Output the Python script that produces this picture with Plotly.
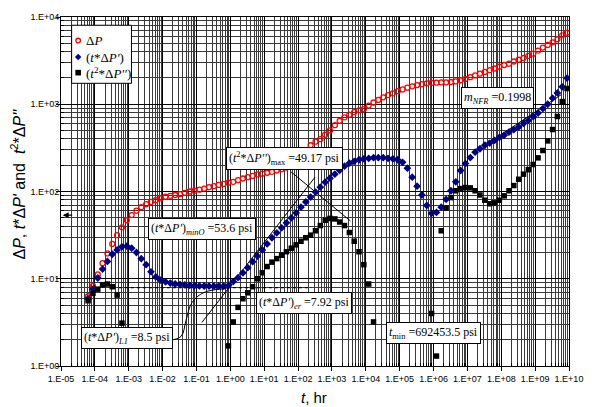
import plotly.graph_objects as go
import math

# ---------------------------------------------------------------- data
# Elapsed time, hr (one row per decade, seven samples per decade)
TIME_HR = [
    6.31e-05, 8.77e-05, 1.22e-04, 1.69e-04, 2.35e-04, 3.27e-04, 4.54e-04,
    6.31e-04, 8.77e-04, 1.22e-03, 1.69e-03, 2.35e-03, 3.27e-03, 4.54e-03,
    6.31e-03, 8.77e-03, 1.22e-02, 1.69e-02, 2.35e-02, 3.27e-02, 4.54e-02,
    6.31e-02, 8.77e-02, 1.22e-01, 1.69e-01, 2.35e-01, 3.27e-01, 4.54e-01,
    6.31e-01, 8.77e-01, 1.22e+00, 1.69e+00, 2.35e+00, 3.27e+00, 4.54e+00,
    6.31e+00, 8.77e+00, 1.22e+01, 1.69e+01, 2.35e+01, 3.27e+01, 4.54e+01,
    6.31e+01, 8.77e+01, 1.22e+02, 1.69e+02, 2.35e+02, 3.27e+02, 4.54e+02,
    6.31e+02, 8.77e+02, 1.22e+03, 1.69e+03, 2.35e+03, 3.27e+03, 4.54e+03,
    6.31e+03, 8.77e+03, 1.22e+04, 1.69e+04, 2.35e+04, 3.27e+04, 4.54e+04,
    6.31e+04, 8.77e+04, 1.22e+05, 1.69e+05, 2.35e+05, 3.27e+05, 4.54e+05,
    6.31e+05, 8.77e+05, 1.22e+06, 1.69e+06, 2.35e+06, 3.27e+06, 4.54e+06,
    6.31e+06, 8.77e+06, 1.22e+07, 1.69e+07, 2.35e+07, 3.27e+07, 4.54e+07,
    6.31e+07, 8.77e+07, 1.22e+08, 1.69e+08, 2.35e+08, 3.27e+08, 4.54e+08,
    6.31e+08, 8.77e+08, 1.22e+09, 1.69e+09, 2.35e+09, 3.27e+09, 4.54e+09,
    6.31e+09, 8.77e+09,
]

# Pressure change, psi
DELTA_P = [
    6.3, 8.3, 11.2, 15.1, 19.5, 25.1, 31.6,
    38.9, 46.8, 53.7, 60.3, 66.1, 71.6, 75.9,
    79.4, 83.2, 87.1, 89.1, 91.2, 93.3, 96.6,
    100, 102, 105, 108, 112, 115, 119,
    122, 126, 129, 135, 141, 146, 151,
    157, 160, 164, 168, 174, 180, 188,
    200, 229, 263, 295, 339, 372, 398,
    447, 501, 575, 646, 708, 759, 813,
    851, 881, 966, 1047, 1122, 1202, 1274,
    1334, 1413, 1479, 1549, 1603, 1660, 1698,
    1738, 1758, 1766, 1778, 1778, 1799, 1828,
    1884, 1950, 2042, 2138, 2239, 2344, 2455,
    2570, 2692, 2818, 2917, 3090, 3236, 3388,
    3589, 3802, 4121, 4467, 4786, 5129, 5559,
    6166, 6607,
]

# Pressure derivative t*dP', psi
T_DP1 = [
    5.9, 7.6, 10.2, 12.9, 15.8, 19.1, 21.4,
    23.2, 23.7, 22.4, 20.0, 17.0, 14.5, 12.0,
    10.5, 9.66, 9.23, 8.91, 8.71, 8.61, 8.51,
    8.41, 8.32, 8.28, 8.26, 8.24, 8.22, 8.22,
    8.22, 8.32, 9.27, 10.3, 11.7, 13.4, 15.7,
    18.2, 21.4, 25.1, 29.5, 33.6, 38.3, 43.7,
    49.8, 56.8, 66.1, 75.9, 86.3, 98.4, 112,
    128, 142, 158, 175, 195, 211, 222,
    231, 237, 240, 244, 244, 244, 240,
    237, 231, 216, 185, 146, 115, 91.2,
    69.2, 56.2, 57.5, 66.1, 81.3, 102, 129,
    174, 209, 245, 282, 309, 339, 359,
    385, 417, 442, 479, 513, 550, 603,
    653, 724, 794, 891, 1000, 1175, 1349,
    1585, 1995,
]

# Second derivative group t^2*dP'', psi (None where not positive)
T2_DP2 = [
    5.6, 6.8, 7.6, 8.5, 8.7, 8.1, 6.5,
    3.1, None, None, None, None, None, None,
    None, None, None, None, None, None, None,
    None, None, None, None, None, None, None,
    None, 1.7, 3.2, 4.7, 5.9, 6.9, 8.1,
    10.0, 11.7, 13.8, 15.5, 17.0, 18.6, 20.4,
    22.4, 24.5, 26.9, 29.5, 31.6, 35.5, 40.7,
    46.8, 49.17, 48.5, 44.7, 40.7, 33.9, 26.9,
    20.4, 14.5, 8.7, 3.2, None, None, None,
    None, None, None, None, None, None, None,
    None, 4.0, 1.3, 35.5, 64.6, 85.1, 102,
    108, 111, 110, 102, 91.2, 79.4, 72.4,
    74.1, 79.4, 89.1, 102, 117, 138, 158,
    178, 204, 243, 295, 380, 513, 724,
    1072, 1514,
]

# Characteristic values written on the chart
T2DP2_MAX = 49.17
TDP1_MIN_O = 53.6
TDP1_ER = 7.92
TDP1_L1 = 8.5
T_MIN = 692453.5
M_NFR = 0.1998

X_TICKS = [10.0 ** e for e in range(-5, 11)]
X_TICK_TEXT = ["1.E-%02d" % -e if e < 0 else "1.E+%02d" % e for e in range(-5, 11)]
Y_TICKS = [10.0 ** e for e in range(0, 5)]
Y_TICK_TEXT = ["1.E+%02d" % e for e in range(0, 5)]

# half-slope guide line and m_NFR guide line (t, psi)
HALF_SLOPE_T = [0.145, 316]
HALF_SLOPE_P = [3.16, 146]
NFR_T = [3.0e7, 5.9e9]
NFR_P = [330, 1288]
# hand-drawn leader from the L1 label
L1_LEADER_T = [0.0156, 0.0351, 0.0492, 0.0738, 0.166, 0.78]
L1_LEADER_P = [1.97, 2.19, 3.33, 5.33, 6.95, 7.71]
# leader from the maximum label toward the hump
MAX_LEADER_T = [62, 3.5e3]
MAX_LEADER_P = [168, 46]
ER_LINE_T = [3.4e-4, 245]

SERIF = "Liberation Serif, Times New Roman, serif"
SANS = "Liberation Sans, Arial, sans-serif"
NARROW = "Liberation Sans Narrow, Arial Narrow, Liberation Sans, Arial, sans-serif"

fig = go.Figure()

line_style = dict(color="black", width=1)
fig.add_trace(go.Scatter(x=ER_LINE_T, y=[TDP1_ER, TDP1_ER], mode="lines",
                         line=dict(color="black", width=1.3, dash="dot"),
                         hoverinfo="skip", showlegend=False))
fig.add_trace(go.Scatter(x=HALF_SLOPE_T, y=HALF_SLOPE_P, mode="lines", line=line_style,
                         hoverinfo="skip", showlegend=False))
fig.add_trace(go.Scatter(x=NFR_T, y=NFR_P, mode="lines", line=line_style,
                         hoverinfo="skip", showlegend=False))
fig.add_trace(go.Scatter(x=MAX_LEADER_T, y=MAX_LEADER_P, mode="lines", line=line_style,
                         hoverinfo="skip", showlegend=False))
fig.add_trace(go.Scatter(x=L1_LEADER_T, y=L1_LEADER_P, mode="lines",
                         line=dict(color="black", width=1, shape="spline", smoothing=1.1),
                         hoverinfo="skip", showlegend=False))

fig.add_trace(go.Scatter(x=TIME_HR, y=DELTA_P, mode="markers", name="ΔP",
                         marker=dict(symbol="circle-open", size=5, color="#FF0000",
                                     line=dict(width=1.3, color="#FF0000")),
                         showlegend=False))
fig.add_trace(go.Scatter(x=TIME_HR, y=T_DP1, mode="markers", name="(t*ΔP')",
                         marker=dict(symbol="diamond", size=6, color="#000080"),
                         showlegend=False))
fig.add_trace(go.Scatter(x=TIME_HR, y=T2_DP2, mode="markers", name="(t²*ΔP'')",
                         marker=dict(symbol="square", size=5.5, color="#000000"),
                         showlegend=False))

# ------------------------------------------------------------- axes
minor_x = [m * 10.0 ** e for e in range(-5, 10) for m in range(2, 10)]
minor_y = [m * 10.0 ** e for e in range(0, 4) for m in range(2, 10)]

axis_common = dict(
    type="log", showline=True, linecolor="black", linewidth=1, mirror=True,
    showgrid=True, gridcolor="#000000", gridwidth=1, zeroline=False,
    ticks="outside", ticklen=4, tickcolor="black", tickwidth=1, tickangle=0,
    tickfont=dict(family=NARROW, size=9, color="black"),
)
fig.update_xaxes(**axis_common, range=[-5, 10], tickmode="array",
                 tickvals=X_TICKS, ticktext=X_TICK_TEXT,
                 minor=dict(tickmode="array", tickvals=minor_x, showgrid=True,
                            gridcolor="#3a3a3a", gridwidth=1, ticks="inside",
                            ticklen=3, tickcolor="black"))
fig.update_yaxes(**axis_common, range=[0, 4], tickmode="array",
                 tickvals=Y_TICKS, ticktext=Y_TICK_TEXT, ticklabelstandoff=-5,
                 minor=dict(tickmode="array", tickvals=minor_y, showgrid=True,
                            gridcolor="#3a3a3a", gridwidth=1, ticks="inside",
                            ticklen=3, tickcolor="black"))

# ------------------------------------------------------- text boxes
box = dict(bgcolor="white", bordercolor="black", borderwidth=1, borderpad=2,
           font=dict(family=SERIF, size=12, color="black"), showarrow=False,
           xref="x", yref="y")
labels = [
    (1.613, 2.375, "(<i>t</i><sup>2</sup>*Δ<i>P''</i>)<sub>max</sub> =%.2f psi" % T2DP2_MAX),
    (-0.831, 1.568, "(<i>t</i>*Δ<i>P'</i>)<sub><i>minO</i></sub> =%.1f psi" % TDP1_MIN_O),
    (2.173, 0.722, "(<i>t</i>*Δ<i>P'</i>)<sub><i>er</i></sub> =%.2f psi" % TDP1_ER),
    (-3.052, 0.323, "(<i>t</i>*Δ<i>P'</i>)<sub><i>L1</i></sub> =%.1f psi" % TDP1_L1),
    (5.996, 0.380, "<i>t</i><sub>min</sub> =%.1f psi" % T_MIN),
    (7.886, 3.076, "<i>m</i><sub><i>NFR</i></sub> =%.4f" % M_NFR),
]
annotations = [dict(x=x, y=y, text=t, **box) for x, y, t in labels]

# arrow on the left axis at the minimum-derivative level
annotations.append(dict(x=-4.95, y=math.log10(TDP1_MIN_O), xref="x", yref="y", text="",
                        showarrow=True, arrowhead=2, arrowsize=1, arrowwidth=1.2,
                        arrowcolor="black", ax=11, ay=0))

# axis titles
annotations.append(dict(xref="paper", yref="paper", x=-0.084, y=0.521, textangle=-90,
                        xanchor="center", yanchor="middle",
                        text="Δ<i>P</i>, <i>t</i>*Δ<i>P'</i> and  <i>t</i><sup>2</sup>*Δ<i>P''</i>",
                        showarrow=False, font=dict(family=SANS, size=16, color="black")))
annotations.append(dict(xref="paper", yref="paper", x=0.498, y=-0.09,
                        xanchor="center", yanchor="middle",
                        text="<i>t</i>, hr", showarrow=False,
                        font=dict(family=NARROW, size=15, color="black")))

# ------------------------------------------------------------ legend
shapes = [dict(type="rect", xref="paper", yref="paper", x0=0.0209, x1=0.1387,
               y0=0.810, y1=0.9764, fillcolor="white", line=dict(color="black", width=1),
               layer="above")]
leg_x = 0.0338
leg_rows = [0.9325, 0.8852, 0.8405]
shapes.append(dict(type="circle", xref="paper", yref="paper", xsizemode="pixel",
                   ysizemode="pixel", xanchor=leg_x, yanchor=leg_rows[0],
                   x0=-2.3, x1=2.3, y0=-2.3, y1=2.3,
                   line=dict(color="#FF0000", width=1.3), layer="above"))
shapes.append(dict(type="path", xref="paper", yref="paper", xsizemode="pixel",
                   ysizemode="pixel", xanchor=leg_x, yanchor=leg_rows[1],
                   path="M0,3.2 L3.2,0 L0,-3.2 L-3.2,0 Z", fillcolor="#000080",
                   line=dict(width=0), layer="above"))
shapes.append(dict(type="rect", xref="paper", yref="paper", xsizemode="pixel",
                   ysizemode="pixel", xanchor=leg_x, yanchor=leg_rows[2],
                   x0=-2.8, x1=2.8, y0=-2.8, y1=2.8, fillcolor="black",
                   line=dict(width=0), layer="above"))
leg_text = ["Δ<i>P</i>", "(<i>t</i>*Δ<i>P'</i>)", "(<i>t</i><sup>2</sup>*Δ<i>P''</i>)"]
for yy, tt in zip(leg_rows, leg_text):
    annotations.append(dict(xref="paper", yref="paper", x=0.0449, y=yy, xanchor="left",
                            yanchor="middle", text=tt, showarrow=False,
                            font=dict(family=SERIF, size=13, color="black")))

fig.update_layout(
    width=595, height=407,
    margin=dict(l=61, r=22, t=15, b=41),
    paper_bgcolor="white", plot_bgcolor="white",
    showlegend=False,
    annotations=annotations, shapes=shapes,
)

fig.write_html("out.html")
